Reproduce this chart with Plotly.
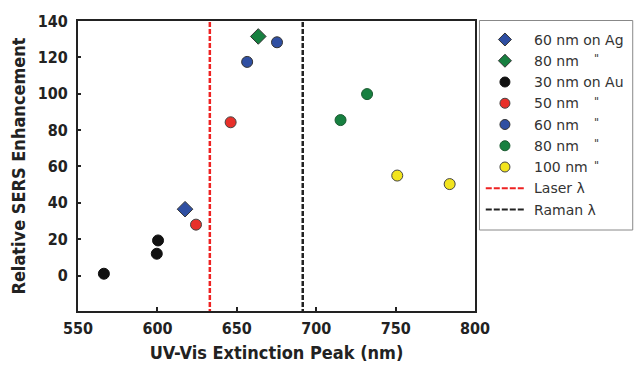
import plotly.graph_objects as go

# ---- data ----
ag60_x = [617.4]
ag60_y = [36.5]
ag80_x = [663.5]
ag80_y = [131.5]
au30_x = [566.3, 599.6, 600.4]
au30_y = [1.0, 12.0, 19.3]
au50_x = [624.3, 646.1]
au50_y = [28.0, 84.3]
au60_x = [656.5, 675.3]
au60_y = [117.5, 128.3]
au80_x = [715.3, 732.0]
au80_y = [85.5, 99.8]
au100_x = [751.0, 784.0]
au100_y = [55.0, 50.3]
laser_nm = 633
raman_nm = 691.5
y_span = [-25, 150]

labels = ["60 nm on Ag", "80 nm", "30 nm on Au", "50 nm", "60 nm",
          "80 nm", "100 nm", "Laser \u03bb", "Raman \u03bb"]
ditto = [False, True, False, True, True, True, True, False, False]

BLUE = "#2f4fa2"
GREEN = "#178040"
RED = "#e8302a"
YELLOW = "#f2e41e"
BLACK = "#111111"
LRED = "#ee2222"
LBLACK = "#222222"

styles = [
    dict(color=BLUE, symbol="diamond", outline="#333333"),
    dict(color=GREEN, symbol="diamond", outline="#333333"),
    dict(color=BLACK, symbol="circle", outline=BLACK),
    dict(color=RED, symbol="circle", outline="#444444"),
    dict(color=BLUE, symbol="circle", outline="#333333"),
    dict(color=GREEN, symbol="circle", outline="#1a5a30"),
    dict(color=YELLOW, symbol="circle", outline="#444444"),
]
series = [(ag60_x, ag60_y), (ag80_x, ag80_y), (au30_x, au30_y), (au50_x, au50_y),
          (au60_x, au60_y), (au80_x, au80_y), (au100_x, au100_y)]

# layout geometry (pixels)
W, H = 638, 370
L, T, B = 78, 21, 59
PW = W - L
PH = H - T - B
plot_right = 486
leg_left = 490.5

fig = go.Figure()

for (x, y), st in zip(series, styles):
    sz = 12 if st["symbol"] == "diamond" else 11
    fig.add_trace(go.Scatter(x=x, y=y, mode="markers", showlegend=False,
                             marker=dict(color=st["color"], symbol=st["symbol"], size=sz,
                                         line=dict(color=st["outline"], width=1))))

fig.add_trace(go.Scatter(x=[laser_nm, laser_nm], y=y_span, mode="lines", showlegend=False,
                         line=dict(color=LRED, width=2.5, dash="5px,2px")))
fig.add_trace(go.Scatter(x=[raman_nm, raman_nm], y=y_span, mode="lines", showlegend=False,
                         line=dict(color=LBLACK, width=2.5, dash="5px,2px")))

# ---- manual legend on a pixel-scaled helper subplot ----
row0, rowstep = 39.5, 21.25
sym_x = 516.7
text_x = 544.5
ditto_x = 611
annotations = []
for i, lab in enumerate(labels):
    ry = row0 + i * rowstep
    if i < len(styles):
        st = styles[i]
        fig.add_trace(go.Scatter(x=[sym_x], y=[ry], mode="markers", showlegend=False,
                                 xaxis="x2", yaxis="y2",
                                 marker=dict(color=st["color"], symbol=st["symbol"], size=10,
                                             line=dict(color=st["outline"], width=1))))
    else:
        col = LRED if i == 7 else LBLACK
        fig.add_trace(go.Scatter(x=[497, 538], y=[ry, ry], mode="lines", showlegend=False,
                                 xaxis="x2", yaxis="y2",
                                 line=dict(color=col, width=2, dash="6px,2px")))
    annotations.append(dict(x=text_x, y=ry, xref="x2", yref="y2", text=lab,
                            showarrow=False, xanchor="left", yanchor="middle",
                            font=dict(family="DejaVu Sans", size=14, color="#333333")))
    if ditto[i]:
        annotations.append(dict(x=ditto_x, y=ry - 2, xref="x2", yref="y2", text='"',
                                showarrow=False, xanchor="center", yanchor="middle",
                                font=dict(family="DejaVu Sans", size=11, color="#333333")))

shapes = [dict(type="rect", xref="paper", yref="paper",
               x0=(leg_left - L) / PW, x1=(W + 10 - L) / PW,
               y0=(H - B - 230) / PH, y1=(H - B - 20.5) / PH,
               line=dict(color="#888888", width=1), fillcolor="rgba(0,0,0,0)")]

AX_FAMILY = "DejaVu Sans Condensed, DejaVu Sans"
title_font = dict(family=AX_FAMILY, size=18, color="#222222")
tick_font = dict(family=AX_FAMILY, size=16, color="#222222", weight="bold")

fig.update_layout(
    width=W, height=H,
    margin=dict(l=L, r=0, t=T, b=B),
    paper_bgcolor="white", plot_bgcolor="white",
    font=dict(family="DejaVu Sans", color="#222222"),
    showlegend=False,
    annotations=annotations,
    shapes=shapes,
    xaxis=dict(domain=[0, (plot_right - L) / PW],
               range=[550, 800], tickvals=[550, 600, 650, 700, 750, 800],
               ticks="inside", ticklen=4, tickwidth=1.5, tickcolor="#222",
               showline=True, linecolor="#222", linewidth=2, mirror=True,
               showgrid=False, zeroline=False, ticklabelstandoff=2,
               tickfont=tick_font,
               title=dict(text="<b>UV-Vis Extinction Peak (nm)</b>", font=title_font, standoff=9)),
    yaxis=dict(range=[-19.5, 140], tickvals=[0, 20, 40, 60, 80, 100, 120, 140],
               ticks="inside", ticklen=3, tickwidth=1.5, tickcolor="#222",
               showline=True, linecolor="#222", linewidth=2, mirror=True,
               showgrid=False, zeroline=False, ticklabelstandoff=5,
               tickfont=tick_font,
               title=dict(text="<b>Relative SERS Enhancement</b>", font=title_font, standoff=7)),
    xaxis2=dict(domain=[(leg_left - 0.5 - L) / PW, 1], range=[leg_left - 0.5, W],
                visible=False, anchor="y2", fixedrange=True),
    yaxis2=dict(domain=[0, 1], range=[H - B, T], visible=False, anchor="x2", fixedrange=True),
)

fig.write_html("out.html")
